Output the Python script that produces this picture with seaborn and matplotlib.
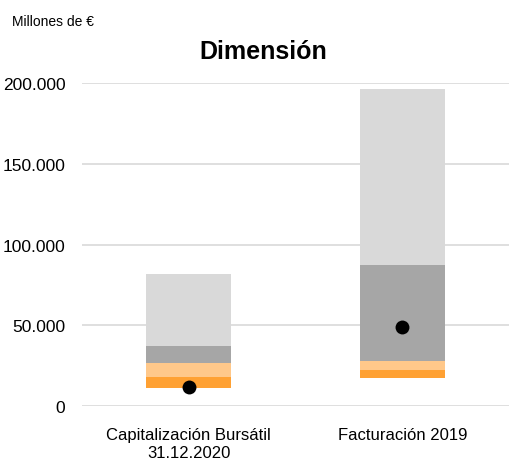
import matplotlib
matplotlib.use("Agg")
import matplotlib.pyplot as plt
from matplotlib import font_manager
import seaborn as sns
import pandas as pd
import numpy as np
from matplotlib.ticker import FuncFormatter

categories = ["Capitalización Bursátil\n31.12.2020", "Facturación 2019"]
base = [11000, 17500]
seg_dark_orange = [7100, 4800]
seg_light_orange = [8300, 5700]
seg_dark_gray = [10700, 59300]
seg_light_gray = [44600, 108700]
points = [11600, 48700]
yticks = [0, 50000, 100000, 150000, 200000]

colors = ["#FFA133", "#FFC88A", "#A6A6A6", "#D9D9D9"]
segments = [seg_dark_orange, seg_light_orange, seg_dark_gray, seg_light_gray]

sns.set_theme(style="white")
names = {f.name for f in font_manager.fontManager.ttflist}
fam = "Liberation Sans Narrow" if "Liberation Sans Narrow" in names else "Liberation Sans"
plt.rcParams["font.family"] = [fam, "DejaVu Sans"]
plt.rcParams["text.color"] = "black"

fig = plt.figure(figsize=(5.09, 4.64), dpi=100)
ax = fig.add_axes([82/509, 57/464, 427/509, 323/464])

bottom = np.array(base, dtype=float)
for seg, c in zip(segments, colors):
    df = pd.DataFrame({"cat": categories, "val": seg})
    sns.barplot(data=df, x="cat", y="val", bottom=bottom, color=c, width=0.40,
                saturation=1, ax=ax, errorbar=None, zorder=2, linewidth=0)
    bottom = bottom + np.array(seg)

dfp = pd.DataFrame({"cat": categories, "val": points})
sns.stripplot(data=dfp, x="cat", y="val", color="black", size=10, jitter=False,
              ax=ax, zorder=3, linewidth=0)

ax.set_xlim(-0.5, 1.5)
ax.set_ylim(0, 200000)
ax.set_yticks(yticks)
ax.yaxis.set_major_formatter(FuncFormatter(lambda v, p: f"{int(v):,}".replace(",", ".")))
ax.grid(axis="y", color="#D9D9D9", linewidth=1.2, zorder=0)
ax.set_axisbelow(True)
for s in ax.spines.values():
    s.set_visible(False)
ax.set_xlabel("")
ax.set_ylabel("")
ax.tick_params(axis="y", labelsize=12.5, length=0, pad=12, colors="black")
ax.tick_params(axis="x", labelsize=12, length=0, pad=15, colors="black")
for lbl in ax.get_xticklabels():
    lbl.set_linespacing(1.3)

fig.text(263/509, 1 - 52/464, "Dimensión", ha="center", va="center",
         fontsize=18, fontweight="bold", color="black")
fig.text(12/509, 1 - 22/464, "Millones de €", ha="left", va="center",
         fontsize=10, color="black")

fig.savefig("out.png", dpi=100)
